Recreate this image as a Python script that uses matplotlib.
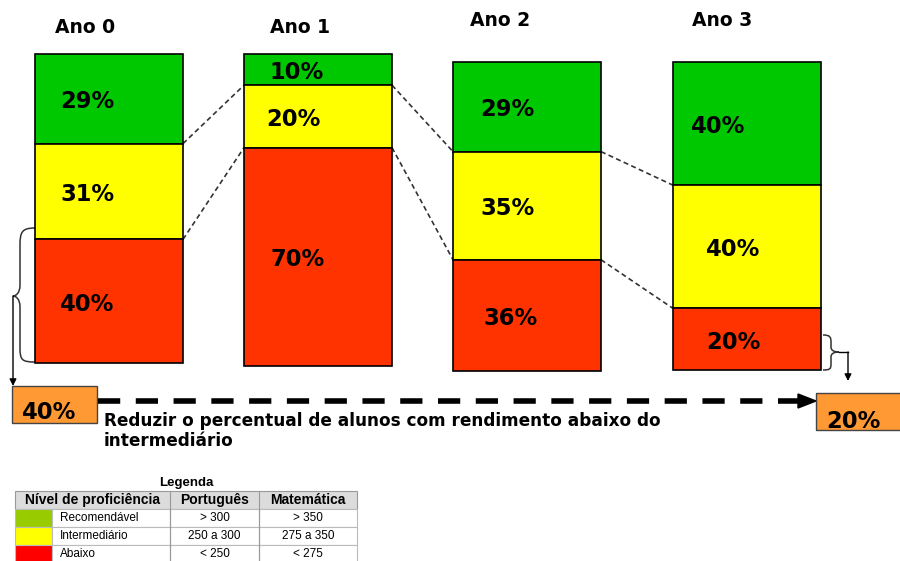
import matplotlib
matplotlib.use("Agg")
import matplotlib.pyplot as plt
from matplotlib.patches import Rectangle, PathPatch, Polygon
from matplotlib.path import Path

# ---------------- data ----------------
years = ["Ano 0", "Ano 1", "Ano 2", "Ano 3"]
recomendavel = [29, 10, 29, 40]
intermediario = [31, 20, 35, 40]
abaixo = [40, 70, 36, 20]
start_value = "40%"
goal_value = "20%"
goal_text = "Reduzir o percentual de alunos com rendimento abaixo do\nintermediário"
legend_title = "Legenda"
legend_header = ["Nível de proficiência", "Português", "Matemática"]
legend_levels = ["Recomendável", "Intermediário", "Abaixo"]
legend_port = ["> 300", "250 a 300", "< 250"]
legend_mat = ["> 350", "275 a 350", "< 275"]

# ---------------- layout (pixels) ----------------
W, H = 900, 561
fig = plt.figure(figsize=(W / 100, H / 100), dpi=100)
ax = fig.add_axes([0, 0, 1, 1])
ax.set_xlim(0, W)
ax.set_ylim(H, 0)
ax.axis("off")

bar_left = [35, 244, 453, 673]
bar_width = 148
bar_top = [54, 54, 62, 62]
bar_bottom = [363, 366, 371, 370]
title_pos = [(85, 27), (300, 27), (500, 20), (722, 20)]
seg_colors = ["#00c800", "#ffff00", "#ff3300"]
seg_label_dx = [[25, 25, 25], [26, 22, 26], [27, 27, 30], [18, 33, 33]]

font = "DejaVu Sans"
boundaries = []  # per bar: y of green/yellow and yellow/red
for i in range(4):
    vals = [recomendavel[i], intermediario[i], abaixo[i]]
    total = sum(vals)
    scale = (bar_bottom[i] - bar_top[i]) / total
    y = bar_top[i]
    b = []
    for j, v in enumerate(vals):
        h = v * scale
        ax.bar(bar_left[i], h, bottom=y, width=bar_width, align="edge",
               color=seg_colors[j], edgecolor="black", linewidth=1.2, zorder=2)
        ax.text(bar_left[i] + seg_label_dx[i][j], y + h / 2 + 3, f"{v}%",
                ha="left", va="center", fontsize=16.3, fontweight="bold",
                family=font, zorder=3)
        y += h
        if j < 2:
            b.append(y)
    boundaries.append(b)
    ax.text(title_pos[i][0], title_pos[i][1], years[i], ha="center", va="center",
            fontsize=13.5, fontweight="bold", family=font)

# dashed connectors between bars
for i in range(3):
    for k in range(2):
        ax.plot([bar_left[i] + bar_width, bar_left[i + 1]],
                [boundaries[i][k], boundaries[i + 1][k]],
                linestyle=(0, (3, 2)), color="#333333", linewidth=1.2, zorder=1)

# left brace + arrow
lb = Path([(35, 228), (22, 228), (20, 232), (20, 245),
           (20, 285),
           (20, 293), (16, 296), (13, 296),
           (16, 296), (20, 299), (20, 307),
           (20, 348),
           (20, 360), (22, 362), (35, 362)],
          [Path.MOVETO, Path.CURVE4, Path.CURVE4, Path.CURVE4,
           Path.LINETO,
           Path.CURVE4, Path.CURVE4, Path.CURVE4,
           Path.CURVE4, Path.CURVE4, Path.CURVE4,
           Path.LINETO,
           Path.CURVE4, Path.CURVE4, Path.CURVE4])
ax.add_patch(PathPatch(lb, facecolor="none", edgecolor="#333333", linewidth=1.1))
ax.annotate("", xy=(13, 386), xytext=(13, 296),
            arrowprops=dict(arrowstyle="-|>", color="black", lw=1.0,
                            mutation_scale=10, shrinkA=0, shrinkB=0))

# right brace + arrow
rb = Path([(823, 335), (830, 335), (831, 337), (831, 342),
           (831, 347),
           (831, 351), (835, 352), (839, 352),
           (835, 352), (831, 353), (831, 357),
           (831, 364),
           (831, 369), (830, 370), (823, 370)],
          [Path.MOVETO, Path.CURVE4, Path.CURVE4, Path.CURVE4,
           Path.LINETO,
           Path.CURVE4, Path.CURVE4, Path.CURVE4,
           Path.CURVE4, Path.CURVE4, Path.CURVE4,
           Path.LINETO,
           Path.CURVE4, Path.CURVE4, Path.CURVE4])
ax.add_patch(PathPatch(rb, facecolor="none", edgecolor="#333333", linewidth=1.1))
ax.plot([839, 848], [352, 352], color="black", lw=1.0)
ax.annotate("", xy=(848, 381), xytext=(848, 352),
            arrowprops=dict(arrowstyle="-|>", color="black", lw=1.0,
                            mutation_scale=10, shrinkA=0, shrinkB=0))

# orange boxes
ax.add_patch(Rectangle((12, 386), 85, 37, facecolor="#ff9933", edgecolor="#444444", lw=1.0, zorder=2))
ax.text(22, 412, start_value, ha="left", va="center", fontsize=16.3, fontweight="bold", family=font, zorder=3)
ax.add_patch(Rectangle((816, 393), 90, 37, facecolor="#ff9933", edgecolor="#444444", lw=1.0, zorder=2))
ax.text(826, 421, goal_value, ha="left", va="center", fontsize=16.3, fontweight="bold", family=font, zorder=3)

# dashed goal line + arrowhead
ax.plot([98, 798], [401, 401], color="black", lw=4, linestyle=(0, (4, 2.8)),
        solid_capstyle="butt", dash_capstyle="butt")
ax.add_patch(Polygon([(798, 394), (816, 401), (798, 408)], closed=True,
                     facecolor="black", edgecolor="black"))

ax.text(104, 431, goal_text, ha="left", va="center", fontsize=12.2, fontweight="bold",
        family=font, linespacing=1.2)

# ---------------- legend table ----------------
tfont = "Liberation Sans"
ax.text(186, 483, legend_title, ha="center", va="center", fontsize=9.5, fontweight="bold", family=tfont)
col_x = [15, 52, 170, 259, 357]
row_y = [491, 509, 527, 545, 563]
# header
ax.add_patch(Rectangle((col_x[0], row_y[0]), col_x[4] - col_x[0], row_y[1] - row_y[0],
                       facecolor="#dcdcdc", edgecolor="#999999", lw=0.8))
ax.text((col_x[0] + col_x[2]) / 2, (row_y[0] + row_y[1]) / 2, legend_header[0],
        ha="center", va="center", fontsize=10, fontweight="bold", family=tfont)
ax.text((col_x[2] + col_x[3]) / 2, (row_y[0] + row_y[1]) / 2, legend_header[1],
        ha="center", va="center", fontsize=10, fontweight="bold", family=tfont)
ax.text((col_x[3] + col_x[4]) / 2, (row_y[0] + row_y[1]) / 2, legend_header[2],
        ha="center", va="center", fontsize=10, fontweight="bold", family=tfont)
for xx in col_x[2:4]:
    ax.plot([xx, xx], [row_y[0], row_y[4]], color="#999999", lw=0.8)
swatch = ["#99cc00", "#ffff00", "#ff0000"]
for r in range(3):
    y0, y1 = row_y[r + 1], row_y[r + 2]
    ax.add_patch(Rectangle((col_x[0], y0), col_x[1] - col_x[0], y1 - y0,
                           facecolor=swatch[r], edgecolor="#bbbbbb", lw=0.8))
    ax.add_patch(Rectangle((col_x[1], y0), col_x[4] - col_x[1], y1 - y0,
                           facecolor="white", edgecolor="#bbbbbb", lw=0.8))
    for xx in col_x[2:4]:
        ax.plot([xx, xx], [y0, y1], color="#999999", lw=0.8)
    yc = (y0 + y1) / 2
    ax.text(col_x[1] + 8, yc, legend_levels[r], ha="left", va="center", fontsize=8.5, family=tfont)
    ax.text((col_x[2] + col_x[3]) / 2, yc, legend_port[r], ha="center", va="center", fontsize=8.5, family=tfont)
    ax.text((col_x[3] + col_x[4]) / 2, yc, legend_mat[r], ha="center", va="center", fontsize=8.5, family=tfont)

fig.savefig("out.png", dpi=100)
